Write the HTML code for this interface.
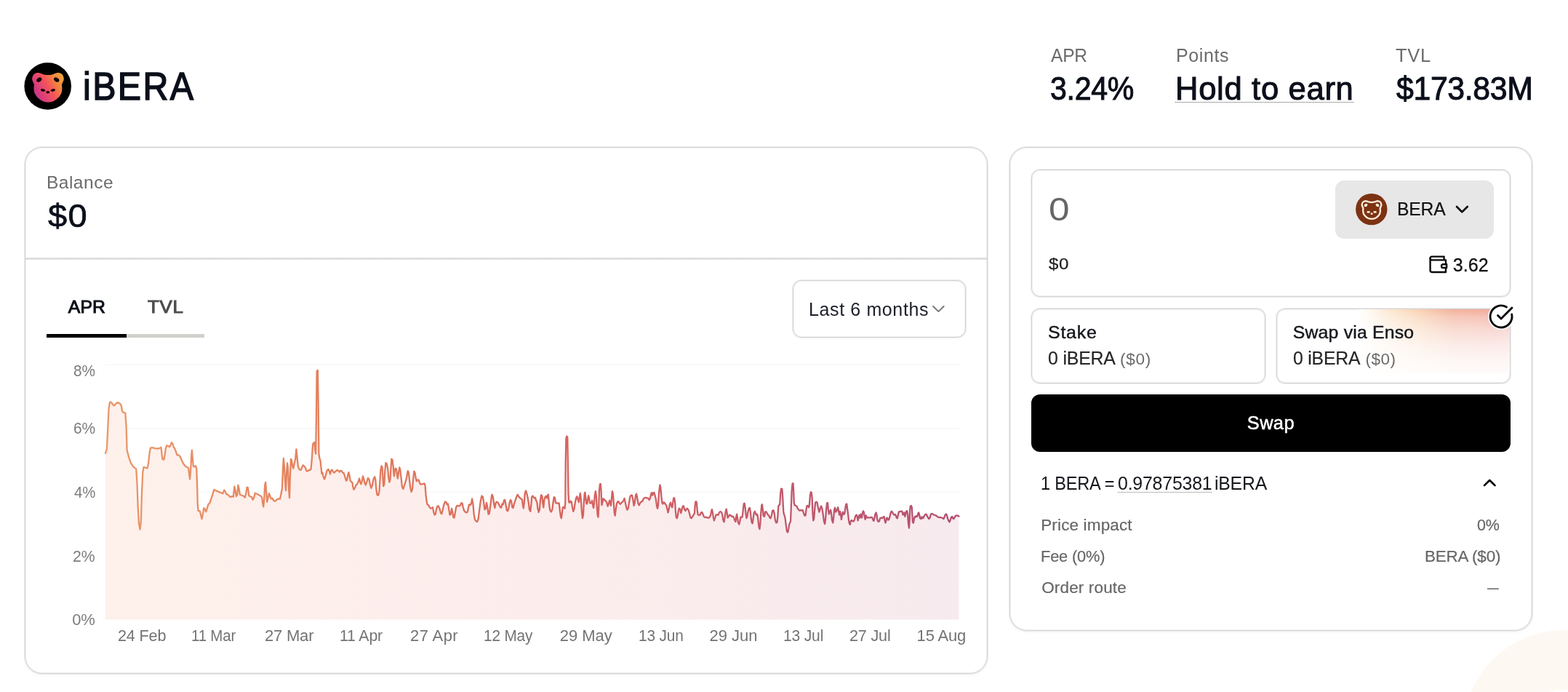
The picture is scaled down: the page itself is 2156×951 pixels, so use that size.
<!DOCTYPE html>
<html lang="en">
<head>
<meta charset="utf-8">
<title>iBERA</title>
<meta name="viewport" content="width=2156">
<style>
*{box-sizing:border-box;margin:0;padding:0}
html,body{width:2156px;height:951px;overflow:hidden;background:#fff}
body{position:relative;font-family:"Liberation Sans",sans-serif;-webkit-font-smoothing:antialiased}
h1,dt,dd,li,button,u,i{font:inherit;list-style:none;border:0;background:none;text-decoration:none}
.t{position:absolute;display:block;white-space:pre;line-height:1;font-weight:400;transform-origin:0 50%}
svg{position:absolute;display:block;overflow:visible}
.frame,.field,.opt,.tok,.swap,.dd,.hr,.ul,.deco,.chk,.glow{position:absolute;display:block}
.frame{border:1px solid #d4d4d4;border-radius:24px;background:#fff;box-shadow:0 0 0 1px #ebebeb,inset 0 0 0 1px #f1f1f1,0 2px 4px rgba(0,0,0,.04)}
.hr{left:35px;top:354px;width:1322px;height:3px;background:linear-gradient(#eee,#d8d8d8 34%,#d8d8d8 66%,#f1f1f1)}
.ul.on{left:64px;top:458.5px;width:110px;height:5.5px;background:#000}
.ul.off{left:174px;top:458.5px;width:107px;height:5.5px;background:#d1d0cc}
.dd{left:1090px;top:385px;width:238px;height:79px;border:1px solid #d4d4d4;border-radius:12px;box-shadow:0 0 0 1px #ececec,inset 0 0 0 1px #f2f2f2;background:#fff}
.field{left:1418px;top:232.5px;width:659px;height:175.5px;border:1px solid #d4d4d4;border-radius:12px;box-shadow:0 0 0 1px #ececec,inset 0 0 0 1px #f2f2f2;background:#fff}
.tok{left:1835.5px;top:248px;width:218px;height:79.5px;border-radius:12px;background:#e7e7e7}
.opt{top:423.5px;width:322px;height:103.5px;border:1px solid #d4d4d4;border-radius:12px;box-shadow:0 0 0 1px #ececec,inset 0 0 0 1px #f2f2f2;background:#fff;overflow:hidden}
#opt-stake{left:1418px}
#opt-enso{left:1755px}
.glow{left:112px;top:0;width:209px;height:88px;
 background:
  linear-gradient(to bottom,rgba(255,255,255,0) 0,rgba(255,255,255,.3) 12%,rgba(255,255,255,.56) 32%,rgba(255,255,255,.76) 56%,rgba(255,255,255,.91) 84%,rgba(255,255,255,.95) 100%),
  linear-gradient(to right,#fff 0,#fef6ec 9%,#fcebd8 17%,#fbdfc3 29%,#f8cfb0 41%,#f5c2a6 50%,#f2b29c 62%,#f2ad9b 78%,#f0a89d 88%,#f1aea6 100%)}
.chk{left:2046.3px;top:417.1px;width:36px;height:36px;border-radius:50%;background:#fff}
.swap{left:1418px;top:541.5px;width:659px;height:79px;border-radius:12px;background:#000}
.deco{left:2012px;top:866px;width:276px;height:276px;border-radius:50%;border:82px solid #fef8f3}
u{text-decoration:underline dotted #777;text-decoration-thickness:1px;text-underline-offset:2.5px}
.dot{text-decoration:underline dotted #555;text-decoration-thickness:1px;text-underline-offset:2.5px}
#f1{left:34px;top:202px;width:1324px;height:724px}
#f2{left:1388px;top:202px;width:719px;height:665px}

</style>
</head>
<body>
<div class="deco"></div>
<header>
<svg style="left:33px;top:86px" width="66" height="66" viewBox="33 86 66 66" class="logo" role="img" aria-label="iBERA logo"><defs><linearGradient id="bg1" gradientUnits="userSpaceOnUse" x1="44" y1="130" x2="88" y2="106"><stop offset="0" stop-color="#b9308f"/><stop offset=".2" stop-color="#d63c7e"/><stop offset=".5" stop-color="#f5535a"/><stop offset=".78" stop-color="#f18a3c"/><stop offset="1" stop-color="#eca440"/></linearGradient></defs>
<circle cx="65.7" cy="118.4" r="32.3" fill="#000"/>
<path d="M51.20 100.00C49.50 100.28 47.38 101.17 46.20 102.60C45.02 104.03 44.20 106.83 44.10 108.60C44.00 110.37 45.13 111.93 45.60 113.20C46.07 114.47 46.75 114.73 46.90 116.20C47.05 117.67 46.35 119.95 46.50 122.00C46.65 124.05 46.85 126.40 47.80 128.50C48.75 130.60 50.42 132.87 52.20 134.60C53.98 136.33 56.20 137.93 58.50 138.90C60.80 139.87 63.50 140.40 66.00 140.40C68.50 140.40 71.20 139.87 73.50 138.90C75.80 137.93 78.02 136.33 79.80 134.60C81.58 132.87 83.27 130.60 84.20 128.50C85.13 126.40 85.27 124.05 85.40 122.00C85.53 119.95 84.85 117.67 85.00 116.20C85.15 114.73 85.83 114.47 86.30 113.20C86.77 111.93 87.88 110.37 87.80 108.60C87.72 106.83 86.97 104.03 85.80 102.60C84.63 101.17 82.50 100.28 80.80 100.00C79.10 99.72 77.15 100.50 75.60 100.90C74.05 101.30 73.10 102.05 71.50 102.40C69.90 102.75 67.83 103.00 66.00 103.00C64.17 103.00 62.10 102.75 60.50 102.40C58.90 102.05 57.95 101.30 56.40 100.90C54.85 100.50 52.90 99.72 51.20 100.00Z" fill="url(#bg1)"/>
<g fill="#120308"><ellipse cx="53.8" cy="109.6" rx="3.9" ry="2.7" transform="rotate(-32 53.8 109.6)"/><ellipse cx="77.7" cy="109.6" rx="3.9" ry="2.7" transform="rotate(32 77.7 109.6)"/><ellipse cx="59" cy="123.9" rx="3.1" ry="1.8" transform="rotate(12 59 123.9)"/><ellipse cx="72.8" cy="123.9" rx="3.1" ry="1.8" transform="rotate(-12 72.8 123.9)"/><ellipse cx="65.8" cy="126.8" rx="2.5" ry="1.8"/></g></svg>
<h1 class="t" style="left:113.5px;top:92.1px;font-size:53.8px;color:#0b0f1a;letter-spacing:2.64px;transform:scaleX(0.9);-webkit-text-stroke:1.5px currentColor">iBERA</h1>
<dl>
<div><dt><span class="t" style="left:1445px;top:63.8px;font-size:25px;color:#6b6b6b;letter-spacing:-0.2px;transform:scaleX(0.9819)">APR</span></dt><dd><span class="t" style="left:1444.1px;top:100.9px;font-size:43.6px;color:#0b0f1a;letter-spacing:-0.35px;transform:scaleX(0.9431);-webkit-text-stroke:1.0px currentColor">3.24%</span></dd></div>
<div><dt><span class="t" style="left:1617px;top:63.8px;font-size:25px;color:#6b6b6b;letter-spacing:0.6px">Points</span></dt><dd><span class="t dot" style="left:1616px;top:100.9px;font-size:43.6px;color:#0b0f1a;letter-spacing:0.67px;-webkit-text-stroke:1.0px currentColor">Hold to earn</span></dd></div>
<div><dt><span class="t" style="left:1919px;top:63.8px;font-size:25px;color:#6b6b6b;letter-spacing:0.75px;transform:scaleX(1.0176)">TVL</span></dt><dd><span class="t" style="left:1920.3px;top:100.9px;font-size:43.6px;color:#0b0f1a;letter-spacing:-0.35px;transform:scaleX(0.9811);-webkit-text-stroke:1.0px currentColor">$173.83M</span></dd></div>
</dl>
</header>
<main>
<section id="chart-card">
<div class="frame" id="f1"></div>
<div class="bal"><span class="t" style="left:63.9px;top:238.6px;font-size:24.5px;color:#6b6b6b;letter-spacing:0.52px">Balance</span><span class="t" style="left:65.6px;top:274.8px;font-size:44px;color:#0b0f1a;letter-spacing:1.32px;transform:scaleX(1.0706);-webkit-text-stroke:0.7px currentColor">$0</span></div>
<div class="hr"></div>
<nav class="tabs">
<span class="t" style="left:93.8px;top:410.2px;font-size:24.8px;color:#0b0f1a;letter-spacing:0.1px;-webkit-text-stroke:1.0px currentColor">APR</span><span class="t" style="left:203.2px;top:410.2px;font-size:24.8px;color:#4d4d4d;letter-spacing:0.74px;transform:scaleX(1.0433);-webkit-text-stroke:1.0px currentColor">TVL</span>
<i class="ul on"></i><i class="ul off"></i>
</nav>
<button class="dd" type="button"><span class="t" style="left:21px;top:26.8px;font-size:25px;color:#1c1f28;letter-spacing:0.62px">Last 6 months</span><svg style="left:188.6px;top:32px" width="20.7" height="13.1" viewBox="1279.6 418 20.7 13.1" aria-hidden="true"><path d="M1282.6 421 L1290 428.1 L1297.3 421" fill="none" stroke="#757575" stroke-width="1.9" stroke-linecap="round" stroke-linejoin="round"/></svg></button>
<figure>
<svg style="left:140px;top:495px" width="1184" height="360.4" viewBox="140 495 1184 360.4" class="chart" role="img" aria-label="APR chart">
<defs>
<linearGradient id="lg" gradientUnits="userSpaceOnUse" x1="145" y1="0" x2="1319" y2="0"><stop offset="0" stop-color="#e8986c"/><stop offset=".25" stop-color="#e4815d"/><stop offset=".55" stop-color="#d6635e"/><stop offset=".8" stop-color="#c1586b"/><stop offset="1" stop-color="#b25070"/></linearGradient>
<linearGradient id="ag" gradientUnits="userSpaceOnUse" x1="145" y1="0" x2="1319" y2="0"><stop offset="0" stop-color="#fef0ea"/><stop offset=".5" stop-color="#fcedec"/><stop offset="1" stop-color="#f7eaee"/></linearGradient>
</defs>
<g stroke="#f7f7f7" stroke-width="1.5"><line x1="145" x2="1319" y1="501.3" y2="501.3"/><line x1="145" x2="1319" y1="588.7" y2="588.7"/><line x1="145" x2="1319" y1="676.2" y2="676.2"/><line x1="145" x2="1319" y1="763.6" y2="763.6"/></g>
<path d="M145 622.9 L146.8 617.4 L148.3 588.3 L149.6 560.6 L151.1 552.5 L153.1 553 L155.1 556 L156.9 557.5 L158.9 555 L161.5 553.2 L164.7 554.3 L166.8 557.5 L168 565.1 L169.8 566.9 L172.3 567.6 L173.6 585.8 L174.6 618.6 L177.1 628.2 L179.9 636.3 L182.9 640.8 L185.4 643.1 L187.2 644.4 L188.5 664 L189.7 696.8 L191 719.6 L192.5 727.6 L193.8 717 L195 676.7 L196.3 648.9 L197.5 641.8 L200.1 642.8 L202.6 643.3 L204.1 636.3 L205.4 623.7 L206.9 615.6 L209.4 615.1 L213.2 616.1 L217 616.6 L220.3 615.6 L221.5 614.8 L222.5 623.7 L223.3 630.7 L225.3 631.7 L226.6 624.9 L227.8 616.1 L229.3 612.3 L231.4 613.1 L233.4 614.1 L234.9 611 L236.2 608 L237.7 611 L238.9 614.8 L240.4 616.6 L242 621.1 L243.5 625.4 L246 625.4 L248 628.2 L249.8 632.5 L252.3 637.5 L254.8 640.8 L257.4 642.1 L259.1 643.3 L260.1 651.4 L261.1 658.5 L262.1 646.4 L263.2 626.2 L263.9 618.6 L264.9 631.2 L265.9 640.8 L267.4 641.3 L269 640.1 L270.2 643.8 L271 664 L271.7 691.8 L272.5 701.9 L274.8 702.4 L276 706.9 L277.5 713.2 L278.8 706.9 L280.3 698.1 L281.8 699.9 L283.3 703.2 L284.9 698.1 L286.4 693.1 L288.4 691.3 L290.4 685.5 L292.4 679.2 L294.4 672.9 L296.3 674.1 L300.1 675.6 L303.9 677.2 L306.4 678.2 L308.2 673.6 L309.7 675.4 L311.2 679.2 L313.2 679.7 L315.2 681.7 L317.3 683.2 L318.8 682.2 L320.8 682.7 L322.3 668.6 L323.6 674.1 L324.8 682.2 L326.1 680.4 L327.4 666.6 L328.6 671.6 L329.9 679.7 L332.4 680.7 L334.9 681.7 L336.9 683.7 L338.5 676.7 L339.5 669.6 L341 670.3 L342.2 681.2 L344.3 682.2 L346 683 L347.5 686.8 L349.1 684.2 L350.6 677.7 L353.1 678.7 L356.1 680.2 L358.6 681.7 L360.2 683.7 L361.2 691.8 L362.2 696.3 L363.2 686.8 L364.2 666.6 L365.2 662.8 L366.2 676.7 L367.2 689.8 L368.5 684.2 L370 678.2 L371.3 681.7 L372.8 685.5 L374.5 684.7 L376.3 688 L378.3 688.8 L380.3 686.8 L382.4 685.7 L384.9 685.7 L386.4 679.2 L387.9 671.6 L388.9 646.4 L389.9 630 L390.9 641.3 L392 661.5 L393 674.1 L394 651.4 L395 636.3 L396 643.8 L397 671.6 L398 684.2 L399 651.4 L400 630.7 L401 632.5 L402.3 641.3 L403.3 643.8 L404.6 637.5 L406.1 631.2 L407.4 617.4 L408.6 628.7 L409.9 641.3 L411.6 645.1 L413.7 645.9 L415.2 642.6 L416.7 639.3 L418.7 640.8 L420.2 643.8 L421.7 647.6 L423.8 646.9 L425.8 645.9 L427.5 645.1 L428.8 631.2 L430.1 611 L431.3 608.5 L432.3 608 L433.3 618.6 L434.1 623.7 L434.9 575.7 L435.6 510.1 L436.9 508.8 L437.6 550.5 L438.4 623.7 L439.4 630 L440.4 632.5 L441.4 641.3 L442.4 650.9 L443.4 649.4 L444.4 654.4 L446 658.5 L446.3 658.1 L447.9 653.1 L449.5 646.8 L451.4 644.9 L452.9 647.6 L453.9 651.5 L455 647.6 L456.2 645.5 L457.7 647.6 L459.2 649.6 L461.3 648 L463.3 646 L465.2 646.8 L466.8 648.7 L468.1 646.8 L469.7 647.1 L471.2 649.6 L472.8 650.3 L474.4 655.5 L476 660.7 L477.2 659.4 L478.3 652.3 L479.4 649.1 L480.5 653.1 L481.6 660.2 L482.9 661.8 L484.5 663.3 L485.4 669.7 L486.5 672.8 L488.1 670.4 L489.5 666.5 L491.1 665.4 L492.7 661.8 L494.1 657.5 L495.2 662.6 L496.3 665.4 L497.6 661.8 L499 654.4 L500.3 658.6 L501.5 664.1 L502.8 666.5 L504.4 661.8 L505.9 657 L507.5 658.6 L508.8 665.7 L510.3 670.8 L511.8 667.3 L513.3 659.4 L515.1 655.1 L516.3 659.4 L517.3 672 L518.5 679.9 L520.1 680.7 L521.4 676 L522.3 662.6 L523.3 646.8 L524.5 640.5 L525.6 642.1 L526.4 656.2 L527.2 668.1 L528.3 665.7 L529.3 646.8 L530.4 636.1 L531.8 637.3 L533.1 643.6 L534.3 656.2 L535.4 662.6 L536.5 659.4 L537.5 642.1 L538.4 630.7 L539.5 631.8 L540.6 640.5 L541.9 654.4 L542.8 646.8 L543.8 643.6 L544.9 644.4 L546 653.1 L546.9 657.5 L548 649.9 L549.3 642.4 L550.4 646 L551.7 657.8 L552.9 668.9 L554.4 672 L555.9 667.3 L557.5 662.6 L559.1 656.2 L560.7 647.1 L561.8 649.1 L563 659.4 L564.3 670.4 L565.7 676 L567 672 L568.1 659.4 L569.3 647.6 L570.6 649.9 L571.7 657 L572.8 661.3 L574.1 659.4 L575.6 659.7 L576.9 663.3 L578.2 665.7 L580.1 665.4 L582 664.9 L583.5 664.4 L584.6 667.3 L585.4 678.3 L586.4 687.8 L587.5 693.3 L589.1 694.1 L590.6 696.9 L592.2 698.8 L593.8 698 L595 697.3 L596.2 703.6 L597.4 707.5 L598.7 706.7 L599.9 700.4 L601.2 696 L602.8 695.4 L604.4 698.8 L605.9 704.4 L607.2 706.4 L608.5 702 L610 694.9 L611.9 689.4 L613.5 690.2 L614.8 693.3 L616 692.5 L617.3 700.4 L618.5 707.5 L619.8 706.7 L621.1 698.8 L622.2 703.6 L623.3 710.7 L624.5 711.5 L625.8 705.1 L627.1 697.3 L628.5 694.9 L630.9 695.4 L632.7 694.9 L634.3 691.3 L635.6 691.7 L636.8 697.3 L638.1 701.7 L639.7 703.6 L641.6 704.4 L642.8 703.6 L644.1 697.3 L645 693.3 L646.6 694.1 L647.9 692.5 L649.1 685.4 L650.4 692.5 L651.7 706.7 L652.9 713.8 L654.5 716.2 L656.1 717 L657.7 713 L659.2 700.4 L660.8 688.6 L662.4 681.5 L664 683.1 L665.2 690.9 L666.5 700.4 L667.8 698.8 L669 690.9 L670.3 697.3 L671.5 706.7 L672.8 705.9 L674.4 694.1 L676 681.5 L676.6 679.6 L677.9 683.1 L679.1 692.5 L680.4 698 L681.7 690.9 L683.2 689.7 L684.8 690.9 L686.4 694.1 L688 697.3 L689.2 697.6 L690.5 692.5 L691.8 693.3 L693 687.5 L694.3 687 L695.6 694.1 L696.8 701.2 L698.1 702.3 L699.3 698.8 L700.6 690.9 L701.9 687 L703.1 688.6 L704.4 697.3 L705.6 698 L706.9 692.5 L708.5 687.8 L710.1 683.1 L711.6 679.6 L713.2 682.3 L714.8 684.3 L716.4 685.4 L717.9 686.5 L718.9 694.1 L719.8 698.5 L720.8 690.9 L721.7 678.3 L723 674.4 L724.3 678.3 L725.5 683.1 L726.8 690.9 L728 700.4 L729.3 702.8 L730.3 694.1 L731.2 683.1 L732.5 681.5 L733.7 683.4 L735 684.6 L735.9 683.8 L737.2 687.8 L738.5 690.9 L739.4 698.8 L740.7 703.9 L741.9 700.4 L742.9 687.8 L744.1 680.2 L745.4 681.5 L746.3 690.9 L747.3 697.3 L748.2 687.8 L749.5 683.1 L750.8 681.8 L752 684.6 L753 680.7 L753.9 679.6 L754.9 690.9 L756.1 700.4 L757.7 703.6 L759.3 700.4 L760.5 690.9 L761.8 683.1 L763.1 684.6 L764 690.9 L765.6 691.7 L767.2 691.3 L768.7 691.7 L769.7 700.4 L770.9 709.9 L771.9 712.2 L772.8 705.1 L773.8 697.3 L774.7 696.6 L775.7 697.3 L776.6 698.8 L777.3 690.9 L777.7 637.3 L778.4 602.6 L779.3 599.5 L780.3 601 L780.9 637.3 L781.5 678.3 L782.3 690.2 L783.2 690.9 L784.5 688.6 L785.8 689.4 L787 697.3 L788.3 702.8 L789.6 698.8 L790.8 690.9 L792.1 684.6 L793.3 682.3 L794.6 686.2 L795.9 690.2 L796.8 683.1 L797.8 678 L798.7 684.6 L799.7 700.4 L800.9 712.2 L801.9 708.3 L802.8 690.9 L803.8 678.3 L804.5 676.8 L805.3 684.6 L806.3 692.2 L807.2 692.5 L808.2 686.2 L809.1 681.2 L810.1 684.6 L811 690.9 L812 691.7 L813.2 690.9 L814.2 687.8 L815.1 694.1 L816.1 698 L817 690.9 L817.9 679.9 L818.9 675.2 L819.8 681.5 L820.8 697.3 L821.7 708.3 L822.5 710.7 L823.3 697.3 L823.9 675.2 L824.9 665.4 L825.8 664.9 L826.6 675.2 L827.4 694.1 L828.4 690.9 L829.3 685.4 L830.6 685.9 L831.8 687.8 L833.1 688.6 L834.4 690.9 L835.6 695.7 L836.9 692.5 L838.1 687.8 L839.1 690.9 L840 694.9 L841 684.6 L841.9 675.2 L842.9 678.3 L843.8 690.9 L844.8 705.1 L845.7 708.6 L846.7 700.4 L847.9 692.5 L849.2 689.4 L850.4 689.1 L851.7 691.7 L853 692.8 L854.5 690.9 L856.1 689.7 L857.4 687.8 L858.6 685 L859.9 690.9 L861.2 697.3 L862.4 700.7 L863.7 698.8 L865 690.9 L866.2 683.1 L867.5 680.7 L869.1 680.7 L870.3 686.2 L871.6 694.9 L872.8 690.9 L874.1 680.7 L875 678.6 L876.3 684.6 L877.6 692.5 L878.8 694.4 L880.4 690.9 L882 689.4 L883.6 688.6 L884.8 685.4 L886.4 684.3 L888 683.8 L889.6 684.3 L891.1 684.6 L892.7 687 L894 684.6 L895.2 679.1 L896.2 677.1 L897.1 680.7 L898.4 677.5 L899.3 676.8 L900.6 680.7 L901.9 686.2 L903.1 695.7 L904.1 698.8 L905 694.1 L906 678.3 L906.3 675.2 L907.4 666.5 L908.4 670.4 L909.5 683.1 L910.4 690.9 L911.4 692.5 L912.6 690.2 L913.9 690.9 L915.1 693.3 L916.4 694.9 L917.7 700.4 L918.6 704.4 L919.6 700.4 L920.8 693.3 L922.1 690.6 L923.3 695.7 L924.3 697.3 L925.2 690.9 L926.2 684.6 L927.1 684.3 L928.1 689.4 L929 703.6 L930 711.5 L930.9 712.2 L931.9 708.3 L932.8 702 L933.8 698.8 L935 699.6 L936.3 705.1 L937.5 700.4 L938.8 695.7 L940.1 695.4 L941.3 700.4 L942.6 702 L943.8 699.6 L945.1 698.8 L946.7 701.2 L948.3 706.7 L949.5 711.5 L950.8 712.2 L952.4 709.9 L953.6 707.5 L954.9 705.9 L955.5 697.3 L956.2 690.2 L957.1 689.1 L958 690.9 L958.7 700.4 L959.6 707 L961.2 708 L962.8 707.5 L964 704.4 L965.3 703.9 L966.6 706.7 L967.8 709.9 L969.4 711.1 L971 710.7 L972.6 711.5 L974.1 711.8 L975.7 710.7 L977 708.3 L977.9 703.6 L978.9 700.1 L979.8 703.6 L980.8 710.7 L982 715.4 L983.3 711.5 L984.5 707.5 L986.1 707.5 L987.7 707.5 L989 704.4 L990.2 703.2 L991.8 703.6 L993.1 706.7 L994.3 714.6 L995.6 717.4 L996.5 711.5 L997.8 702.8 L998.7 699.6 L999.7 705.1 L1000.6 711.5 L1001.9 709.9 L1003.2 707.5 L1004.7 708.3 L1006.3 709.9 L1007.9 709.6 L1009.1 711.5 L1010.4 715.4 L1011.4 717 L1012.3 709.9 L1013.2 706.7 L1014.2 713 L1015.1 718.5 L1016.4 720.6 L1017.4 716.2 L1018.3 710.7 L1019.6 711.1 L1020.8 709.9 L1021.8 700.4 L1022.7 692.5 L1023.7 691.7 L1024.6 697.3 L1025.6 706.7 L1026.5 712.2 L1027.4 709.9 L1028.4 703.6 L1029.7 698.8 L1030.9 698 L1031.9 703.6 L1032.8 713 L1033.8 718.5 L1034.7 719.3 L1035.6 713 L1036.6 705.1 L1037.9 702.8 L1038.8 705.1 L1039.7 707.5 L1040.7 706.7 L1041.6 707.5 L1042.6 716.2 L1043.5 724.1 L1044.5 727.2 L1045.4 719.3 L1046.4 703.6 L1047.3 694.1 L1047.9 693.3 L1048.9 700.4 L1049.8 709.1 L1051.1 709.9 L1052.1 703.6 L1053.3 703.2 L1054.6 705.1 L1055.8 707.5 L1057.1 708.3 L1058.4 711.5 L1059.6 712.2 L1060.9 708.3 L1062.1 702 L1063.4 701.2 L1064.7 705.1 L1065.9 714.6 L1067.2 718.5 L1068.5 717.8 L1069.4 709.9 L1070.3 695.7 L1071.3 694.1 L1072.2 693.3 L1073.2 678.3 L1074.1 671.7 L1075.4 672 L1076.3 684.6 L1077.3 703.6 L1078.2 707.5 L1079.2 709.9 L1080.1 716.2 L1081.1 724.1 L1082 730.4 L1083.3 731.6 L1084.2 727.2 L1085.2 720.9 L1086.1 718.5 L1087.1 716.2 L1087.7 700.4 L1088.6 675.2 L1089.6 664.9 L1090.5 664.1 L1091.2 675.2 L1091.8 690.9 L1092.7 694.4 L1094 694.9 L1095.6 695.7 L1096.8 698.8 L1098.1 700.4 L1099.4 701.7 L1100.9 701.2 L1102.5 701.7 L1103.8 701.2 L1105 705.1 L1106.3 708.6 L1107.6 708.3 L1108.5 700.4 L1109.5 695.4 L1110.7 694.9 L1112 697.3 L1112.9 694.1 L1113.9 681.5 L1114.8 676.4 L1115.8 676.8 L1116.7 684.6 L1117.4 703.6 L1118.3 715.4 L1119.2 713 L1120.2 700.4 L1121.1 690.9 L1122.4 689.7 L1123.7 690.9 L1124.6 695.7 L1125.6 700.4 L1126.5 703.6 L1127.8 698.8 L1129.1 695.4 L1130.4 698.8 L1131.7 706.7 L1132.9 716.2 L1134.2 720.1 L1135.1 713 L1136.1 700.4 L1137 691.7 L1138 690.9 L1138.9 700.4 L1139.9 706.7 L1140.8 703.6 L1142.1 700.7 L1143 705.1 L1144 714.6 L1145.2 718.5 L1146.2 711.5 L1147.1 700.4 L1148.1 697.6 L1149 703.6 L1150 702.8 L1150.9 700.4 L1152.2 697.3 L1153.1 702 L1154.1 707.5 L1155 702.8 L1156 706.7 L1156.9 713.8 L1157.9 708.3 L1158.8 703.6 L1160.1 707 L1161.3 705.9 L1162.3 698.8 L1163.2 693.3 L1164.2 692.5 L1165.1 698.8 L1166.1 706.7 L1167 714.6 L1167.9 719.3 L1168.9 720.9 L1169.8 716.2 L1171.1 714.9 L1172.4 716.2 L1173.6 716.5 L1174.9 714.6 L1175.8 710.7 L1176.8 708.3 L1177.7 707.5 L1178.7 709.9 L1179.6 715.4 L1180.6 711.5 L1181.5 708 L1182.5 711.5 L1183.4 706.7 L1184.4 707.5 L1185 711.5 L1185.9 705.1 L1186.9 702.3 L1187.8 703.6 L1188.8 709.9 L1189.7 713.8 L1190.7 708.3 L1191.9 711.5 L1193.5 711.1 L1195.1 711.5 L1196.7 711.1 L1198.2 710.8 L1199.5 711.5 L1200.4 714.6 L1201.4 715.9 L1202.3 713 L1203.3 707.5 L1204.5 704.4 L1205.5 707.5 L1206.4 714.6 L1207.7 717 L1209 716.2 L1210.2 712.2 L1211.8 711.5 L1213.1 712.2 L1214.3 710.7 L1215.6 709.9 L1216.5 714.6 L1217.5 718.5 L1218.4 715.4 L1219.4 711.5 L1220.3 712.2 L1221.3 714.6 L1222.5 713.8 L1223.5 709.9 L1224.4 705.9 L1225.4 703.2 L1226.3 702.8 L1227.3 704.4 L1228.5 706.7 L1229.8 707.5 L1231 707 L1232 709.1 L1232.9 711.5 L1233.9 712.2 L1234.8 708.3 L1235.8 703.6 L1237 703.2 L1238.3 702.8 L1239.6 702.3 L1240.5 703.2 L1241.5 707.5 L1242.4 706.7 L1243.3 704.4 L1244.3 709.9 L1245.2 706.7 L1246.2 702.8 L1247.1 702 L1248.1 706.7 L1249 719.3 L1250 725.6 L1250.6 716.2 L1251.2 700.4 L1251.9 695.4 L1252.8 694.9 L1253.8 697.3 L1254.4 708.3 L1255 717.8 L1256 718.5 L1256.9 713 L1257.9 709.9 L1258.8 710.7 L1260.1 709.1 L1261.3 709.9 L1262.3 705.9 L1263.2 704.4 L1264.2 707.5 L1265.1 712.2 L1266.4 713 L1267.6 710.2 L1268.6 712.2 L1269.8 711.5 L1271.1 708.3 L1272.4 707 L1273.6 706.7 L1274.9 709.1 L1276.2 711.5 L1277.4 713 L1278.7 711.5 L1279.6 707.5 L1280.9 705.9 L1282.5 706.4 L1284 707.5 L1285.6 708 L1287.2 708.6 L1288.8 709.9 L1290.3 710.7 L1291.9 711.1 L1293.5 711.1 L1295.1 711.5 L1296.3 712.2 L1297.6 713 L1298.5 710.7 L1299.8 707.5 L1301.1 706.4 L1302 708.3 L1303 712.2 L1304.2 715.4 L1305.5 717.4 L1306.8 714.6 L1308 710.7 L1309.3 709.9 L1310.2 712.2 L1311.2 713 L1312.4 711.5 L1313.7 709.1 L1315.3 708.3 L1316.8 708.6 L1318.4 709.6 L1318.4 851.4 L145 851.4 Z" fill="url(#ag)"/>
<path d="M145 622.9 L146.8 617.4 L148.3 588.3 L149.6 560.6 L151.1 552.5 L153.1 553 L155.1 556 L156.9 557.5 L158.9 555 L161.5 553.2 L164.7 554.3 L166.8 557.5 L168 565.1 L169.8 566.9 L172.3 567.6 L173.6 585.8 L174.6 618.6 L177.1 628.2 L179.9 636.3 L182.9 640.8 L185.4 643.1 L187.2 644.4 L188.5 664 L189.7 696.8 L191 719.6 L192.5 727.6 L193.8 717 L195 676.7 L196.3 648.9 L197.5 641.8 L200.1 642.8 L202.6 643.3 L204.1 636.3 L205.4 623.7 L206.9 615.6 L209.4 615.1 L213.2 616.1 L217 616.6 L220.3 615.6 L221.5 614.8 L222.5 623.7 L223.3 630.7 L225.3 631.7 L226.6 624.9 L227.8 616.1 L229.3 612.3 L231.4 613.1 L233.4 614.1 L234.9 611 L236.2 608 L237.7 611 L238.9 614.8 L240.4 616.6 L242 621.1 L243.5 625.4 L246 625.4 L248 628.2 L249.8 632.5 L252.3 637.5 L254.8 640.8 L257.4 642.1 L259.1 643.3 L260.1 651.4 L261.1 658.5 L262.1 646.4 L263.2 626.2 L263.9 618.6 L264.9 631.2 L265.9 640.8 L267.4 641.3 L269 640.1 L270.2 643.8 L271 664 L271.7 691.8 L272.5 701.9 L274.8 702.4 L276 706.9 L277.5 713.2 L278.8 706.9 L280.3 698.1 L281.8 699.9 L283.3 703.2 L284.9 698.1 L286.4 693.1 L288.4 691.3 L290.4 685.5 L292.4 679.2 L294.4 672.9 L296.3 674.1 L300.1 675.6 L303.9 677.2 L306.4 678.2 L308.2 673.6 L309.7 675.4 L311.2 679.2 L313.2 679.7 L315.2 681.7 L317.3 683.2 L318.8 682.2 L320.8 682.7 L322.3 668.6 L323.6 674.1 L324.8 682.2 L326.1 680.4 L327.4 666.6 L328.6 671.6 L329.9 679.7 L332.4 680.7 L334.9 681.7 L336.9 683.7 L338.5 676.7 L339.5 669.6 L341 670.3 L342.2 681.2 L344.3 682.2 L346 683 L347.5 686.8 L349.1 684.2 L350.6 677.7 L353.1 678.7 L356.1 680.2 L358.6 681.7 L360.2 683.7 L361.2 691.8 L362.2 696.3 L363.2 686.8 L364.2 666.6 L365.2 662.8 L366.2 676.7 L367.2 689.8 L368.5 684.2 L370 678.2 L371.3 681.7 L372.8 685.5 L374.5 684.7 L376.3 688 L378.3 688.8 L380.3 686.8 L382.4 685.7 L384.9 685.7 L386.4 679.2 L387.9 671.6 L388.9 646.4 L389.9 630 L390.9 641.3 L392 661.5 L393 674.1 L394 651.4 L395 636.3 L396 643.8 L397 671.6 L398 684.2 L399 651.4 L400 630.7 L401 632.5 L402.3 641.3 L403.3 643.8 L404.6 637.5 L406.1 631.2 L407.4 617.4 L408.6 628.7 L409.9 641.3 L411.6 645.1 L413.7 645.9 L415.2 642.6 L416.7 639.3 L418.7 640.8 L420.2 643.8 L421.7 647.6 L423.8 646.9 L425.8 645.9 L427.5 645.1 L428.8 631.2 L430.1 611 L431.3 608.5 L432.3 608 L433.3 618.6 L434.1 623.7 L434.9 575.7 L435.6 510.1 L436.9 508.8 L437.6 550.5 L438.4 623.7 L439.4 630 L440.4 632.5 L441.4 641.3 L442.4 650.9 L443.4 649.4 L444.4 654.4 L446 658.5 L446.3 658.1 L447.9 653.1 L449.5 646.8 L451.4 644.9 L452.9 647.6 L453.9 651.5 L455 647.6 L456.2 645.5 L457.7 647.6 L459.2 649.6 L461.3 648 L463.3 646 L465.2 646.8 L466.8 648.7 L468.1 646.8 L469.7 647.1 L471.2 649.6 L472.8 650.3 L474.4 655.5 L476 660.7 L477.2 659.4 L478.3 652.3 L479.4 649.1 L480.5 653.1 L481.6 660.2 L482.9 661.8 L484.5 663.3 L485.4 669.7 L486.5 672.8 L488.1 670.4 L489.5 666.5 L491.1 665.4 L492.7 661.8 L494.1 657.5 L495.2 662.6 L496.3 665.4 L497.6 661.8 L499 654.4 L500.3 658.6 L501.5 664.1 L502.8 666.5 L504.4 661.8 L505.9 657 L507.5 658.6 L508.8 665.7 L510.3 670.8 L511.8 667.3 L513.3 659.4 L515.1 655.1 L516.3 659.4 L517.3 672 L518.5 679.9 L520.1 680.7 L521.4 676 L522.3 662.6 L523.3 646.8 L524.5 640.5 L525.6 642.1 L526.4 656.2 L527.2 668.1 L528.3 665.7 L529.3 646.8 L530.4 636.1 L531.8 637.3 L533.1 643.6 L534.3 656.2 L535.4 662.6 L536.5 659.4 L537.5 642.1 L538.4 630.7 L539.5 631.8 L540.6 640.5 L541.9 654.4 L542.8 646.8 L543.8 643.6 L544.9 644.4 L546 653.1 L546.9 657.5 L548 649.9 L549.3 642.4 L550.4 646 L551.7 657.8 L552.9 668.9 L554.4 672 L555.9 667.3 L557.5 662.6 L559.1 656.2 L560.7 647.1 L561.8 649.1 L563 659.4 L564.3 670.4 L565.7 676 L567 672 L568.1 659.4 L569.3 647.6 L570.6 649.9 L571.7 657 L572.8 661.3 L574.1 659.4 L575.6 659.7 L576.9 663.3 L578.2 665.7 L580.1 665.4 L582 664.9 L583.5 664.4 L584.6 667.3 L585.4 678.3 L586.4 687.8 L587.5 693.3 L589.1 694.1 L590.6 696.9 L592.2 698.8 L593.8 698 L595 697.3 L596.2 703.6 L597.4 707.5 L598.7 706.7 L599.9 700.4 L601.2 696 L602.8 695.4 L604.4 698.8 L605.9 704.4 L607.2 706.4 L608.5 702 L610 694.9 L611.9 689.4 L613.5 690.2 L614.8 693.3 L616 692.5 L617.3 700.4 L618.5 707.5 L619.8 706.7 L621.1 698.8 L622.2 703.6 L623.3 710.7 L624.5 711.5 L625.8 705.1 L627.1 697.3 L628.5 694.9 L630.9 695.4 L632.7 694.9 L634.3 691.3 L635.6 691.7 L636.8 697.3 L638.1 701.7 L639.7 703.6 L641.6 704.4 L642.8 703.6 L644.1 697.3 L645 693.3 L646.6 694.1 L647.9 692.5 L649.1 685.4 L650.4 692.5 L651.7 706.7 L652.9 713.8 L654.5 716.2 L656.1 717 L657.7 713 L659.2 700.4 L660.8 688.6 L662.4 681.5 L664 683.1 L665.2 690.9 L666.5 700.4 L667.8 698.8 L669 690.9 L670.3 697.3 L671.5 706.7 L672.8 705.9 L674.4 694.1 L676 681.5 L676.6 679.6 L677.9 683.1 L679.1 692.5 L680.4 698 L681.7 690.9 L683.2 689.7 L684.8 690.9 L686.4 694.1 L688 697.3 L689.2 697.6 L690.5 692.5 L691.8 693.3 L693 687.5 L694.3 687 L695.6 694.1 L696.8 701.2 L698.1 702.3 L699.3 698.8 L700.6 690.9 L701.9 687 L703.1 688.6 L704.4 697.3 L705.6 698 L706.9 692.5 L708.5 687.8 L710.1 683.1 L711.6 679.6 L713.2 682.3 L714.8 684.3 L716.4 685.4 L717.9 686.5 L718.9 694.1 L719.8 698.5 L720.8 690.9 L721.7 678.3 L723 674.4 L724.3 678.3 L725.5 683.1 L726.8 690.9 L728 700.4 L729.3 702.8 L730.3 694.1 L731.2 683.1 L732.5 681.5 L733.7 683.4 L735 684.6 L735.9 683.8 L737.2 687.8 L738.5 690.9 L739.4 698.8 L740.7 703.9 L741.9 700.4 L742.9 687.8 L744.1 680.2 L745.4 681.5 L746.3 690.9 L747.3 697.3 L748.2 687.8 L749.5 683.1 L750.8 681.8 L752 684.6 L753 680.7 L753.9 679.6 L754.9 690.9 L756.1 700.4 L757.7 703.6 L759.3 700.4 L760.5 690.9 L761.8 683.1 L763.1 684.6 L764 690.9 L765.6 691.7 L767.2 691.3 L768.7 691.7 L769.7 700.4 L770.9 709.9 L771.9 712.2 L772.8 705.1 L773.8 697.3 L774.7 696.6 L775.7 697.3 L776.6 698.8 L777.3 690.9 L777.7 637.3 L778.4 602.6 L779.3 599.5 L780.3 601 L780.9 637.3 L781.5 678.3 L782.3 690.2 L783.2 690.9 L784.5 688.6 L785.8 689.4 L787 697.3 L788.3 702.8 L789.6 698.8 L790.8 690.9 L792.1 684.6 L793.3 682.3 L794.6 686.2 L795.9 690.2 L796.8 683.1 L797.8 678 L798.7 684.6 L799.7 700.4 L800.9 712.2 L801.9 708.3 L802.8 690.9 L803.8 678.3 L804.5 676.8 L805.3 684.6 L806.3 692.2 L807.2 692.5 L808.2 686.2 L809.1 681.2 L810.1 684.6 L811 690.9 L812 691.7 L813.2 690.9 L814.2 687.8 L815.1 694.1 L816.1 698 L817 690.9 L817.9 679.9 L818.9 675.2 L819.8 681.5 L820.8 697.3 L821.7 708.3 L822.5 710.7 L823.3 697.3 L823.9 675.2 L824.9 665.4 L825.8 664.9 L826.6 675.2 L827.4 694.1 L828.4 690.9 L829.3 685.4 L830.6 685.9 L831.8 687.8 L833.1 688.6 L834.4 690.9 L835.6 695.7 L836.9 692.5 L838.1 687.8 L839.1 690.9 L840 694.9 L841 684.6 L841.9 675.2 L842.9 678.3 L843.8 690.9 L844.8 705.1 L845.7 708.6 L846.7 700.4 L847.9 692.5 L849.2 689.4 L850.4 689.1 L851.7 691.7 L853 692.8 L854.5 690.9 L856.1 689.7 L857.4 687.8 L858.6 685 L859.9 690.9 L861.2 697.3 L862.4 700.7 L863.7 698.8 L865 690.9 L866.2 683.1 L867.5 680.7 L869.1 680.7 L870.3 686.2 L871.6 694.9 L872.8 690.9 L874.1 680.7 L875 678.6 L876.3 684.6 L877.6 692.5 L878.8 694.4 L880.4 690.9 L882 689.4 L883.6 688.6 L884.8 685.4 L886.4 684.3 L888 683.8 L889.6 684.3 L891.1 684.6 L892.7 687 L894 684.6 L895.2 679.1 L896.2 677.1 L897.1 680.7 L898.4 677.5 L899.3 676.8 L900.6 680.7 L901.9 686.2 L903.1 695.7 L904.1 698.8 L905 694.1 L906 678.3 L906.3 675.2 L907.4 666.5 L908.4 670.4 L909.5 683.1 L910.4 690.9 L911.4 692.5 L912.6 690.2 L913.9 690.9 L915.1 693.3 L916.4 694.9 L917.7 700.4 L918.6 704.4 L919.6 700.4 L920.8 693.3 L922.1 690.6 L923.3 695.7 L924.3 697.3 L925.2 690.9 L926.2 684.6 L927.1 684.3 L928.1 689.4 L929 703.6 L930 711.5 L930.9 712.2 L931.9 708.3 L932.8 702 L933.8 698.8 L935 699.6 L936.3 705.1 L937.5 700.4 L938.8 695.7 L940.1 695.4 L941.3 700.4 L942.6 702 L943.8 699.6 L945.1 698.8 L946.7 701.2 L948.3 706.7 L949.5 711.5 L950.8 712.2 L952.4 709.9 L953.6 707.5 L954.9 705.9 L955.5 697.3 L956.2 690.2 L957.1 689.1 L958 690.9 L958.7 700.4 L959.6 707 L961.2 708 L962.8 707.5 L964 704.4 L965.3 703.9 L966.6 706.7 L967.8 709.9 L969.4 711.1 L971 710.7 L972.6 711.5 L974.1 711.8 L975.7 710.7 L977 708.3 L977.9 703.6 L978.9 700.1 L979.8 703.6 L980.8 710.7 L982 715.4 L983.3 711.5 L984.5 707.5 L986.1 707.5 L987.7 707.5 L989 704.4 L990.2 703.2 L991.8 703.6 L993.1 706.7 L994.3 714.6 L995.6 717.4 L996.5 711.5 L997.8 702.8 L998.7 699.6 L999.7 705.1 L1000.6 711.5 L1001.9 709.9 L1003.2 707.5 L1004.7 708.3 L1006.3 709.9 L1007.9 709.6 L1009.1 711.5 L1010.4 715.4 L1011.4 717 L1012.3 709.9 L1013.2 706.7 L1014.2 713 L1015.1 718.5 L1016.4 720.6 L1017.4 716.2 L1018.3 710.7 L1019.6 711.1 L1020.8 709.9 L1021.8 700.4 L1022.7 692.5 L1023.7 691.7 L1024.6 697.3 L1025.6 706.7 L1026.5 712.2 L1027.4 709.9 L1028.4 703.6 L1029.7 698.8 L1030.9 698 L1031.9 703.6 L1032.8 713 L1033.8 718.5 L1034.7 719.3 L1035.6 713 L1036.6 705.1 L1037.9 702.8 L1038.8 705.1 L1039.7 707.5 L1040.7 706.7 L1041.6 707.5 L1042.6 716.2 L1043.5 724.1 L1044.5 727.2 L1045.4 719.3 L1046.4 703.6 L1047.3 694.1 L1047.9 693.3 L1048.9 700.4 L1049.8 709.1 L1051.1 709.9 L1052.1 703.6 L1053.3 703.2 L1054.6 705.1 L1055.8 707.5 L1057.1 708.3 L1058.4 711.5 L1059.6 712.2 L1060.9 708.3 L1062.1 702 L1063.4 701.2 L1064.7 705.1 L1065.9 714.6 L1067.2 718.5 L1068.5 717.8 L1069.4 709.9 L1070.3 695.7 L1071.3 694.1 L1072.2 693.3 L1073.2 678.3 L1074.1 671.7 L1075.4 672 L1076.3 684.6 L1077.3 703.6 L1078.2 707.5 L1079.2 709.9 L1080.1 716.2 L1081.1 724.1 L1082 730.4 L1083.3 731.6 L1084.2 727.2 L1085.2 720.9 L1086.1 718.5 L1087.1 716.2 L1087.7 700.4 L1088.6 675.2 L1089.6 664.9 L1090.5 664.1 L1091.2 675.2 L1091.8 690.9 L1092.7 694.4 L1094 694.9 L1095.6 695.7 L1096.8 698.8 L1098.1 700.4 L1099.4 701.7 L1100.9 701.2 L1102.5 701.7 L1103.8 701.2 L1105 705.1 L1106.3 708.6 L1107.6 708.3 L1108.5 700.4 L1109.5 695.4 L1110.7 694.9 L1112 697.3 L1112.9 694.1 L1113.9 681.5 L1114.8 676.4 L1115.8 676.8 L1116.7 684.6 L1117.4 703.6 L1118.3 715.4 L1119.2 713 L1120.2 700.4 L1121.1 690.9 L1122.4 689.7 L1123.7 690.9 L1124.6 695.7 L1125.6 700.4 L1126.5 703.6 L1127.8 698.8 L1129.1 695.4 L1130.4 698.8 L1131.7 706.7 L1132.9 716.2 L1134.2 720.1 L1135.1 713 L1136.1 700.4 L1137 691.7 L1138 690.9 L1138.9 700.4 L1139.9 706.7 L1140.8 703.6 L1142.1 700.7 L1143 705.1 L1144 714.6 L1145.2 718.5 L1146.2 711.5 L1147.1 700.4 L1148.1 697.6 L1149 703.6 L1150 702.8 L1150.9 700.4 L1152.2 697.3 L1153.1 702 L1154.1 707.5 L1155 702.8 L1156 706.7 L1156.9 713.8 L1157.9 708.3 L1158.8 703.6 L1160.1 707 L1161.3 705.9 L1162.3 698.8 L1163.2 693.3 L1164.2 692.5 L1165.1 698.8 L1166.1 706.7 L1167 714.6 L1167.9 719.3 L1168.9 720.9 L1169.8 716.2 L1171.1 714.9 L1172.4 716.2 L1173.6 716.5 L1174.9 714.6 L1175.8 710.7 L1176.8 708.3 L1177.7 707.5 L1178.7 709.9 L1179.6 715.4 L1180.6 711.5 L1181.5 708 L1182.5 711.5 L1183.4 706.7 L1184.4 707.5 L1185 711.5 L1185.9 705.1 L1186.9 702.3 L1187.8 703.6 L1188.8 709.9 L1189.7 713.8 L1190.7 708.3 L1191.9 711.5 L1193.5 711.1 L1195.1 711.5 L1196.7 711.1 L1198.2 710.8 L1199.5 711.5 L1200.4 714.6 L1201.4 715.9 L1202.3 713 L1203.3 707.5 L1204.5 704.4 L1205.5 707.5 L1206.4 714.6 L1207.7 717 L1209 716.2 L1210.2 712.2 L1211.8 711.5 L1213.1 712.2 L1214.3 710.7 L1215.6 709.9 L1216.5 714.6 L1217.5 718.5 L1218.4 715.4 L1219.4 711.5 L1220.3 712.2 L1221.3 714.6 L1222.5 713.8 L1223.5 709.9 L1224.4 705.9 L1225.4 703.2 L1226.3 702.8 L1227.3 704.4 L1228.5 706.7 L1229.8 707.5 L1231 707 L1232 709.1 L1232.9 711.5 L1233.9 712.2 L1234.8 708.3 L1235.8 703.6 L1237 703.2 L1238.3 702.8 L1239.6 702.3 L1240.5 703.2 L1241.5 707.5 L1242.4 706.7 L1243.3 704.4 L1244.3 709.9 L1245.2 706.7 L1246.2 702.8 L1247.1 702 L1248.1 706.7 L1249 719.3 L1250 725.6 L1250.6 716.2 L1251.2 700.4 L1251.9 695.4 L1252.8 694.9 L1253.8 697.3 L1254.4 708.3 L1255 717.8 L1256 718.5 L1256.9 713 L1257.9 709.9 L1258.8 710.7 L1260.1 709.1 L1261.3 709.9 L1262.3 705.9 L1263.2 704.4 L1264.2 707.5 L1265.1 712.2 L1266.4 713 L1267.6 710.2 L1268.6 712.2 L1269.8 711.5 L1271.1 708.3 L1272.4 707 L1273.6 706.7 L1274.9 709.1 L1276.2 711.5 L1277.4 713 L1278.7 711.5 L1279.6 707.5 L1280.9 705.9 L1282.5 706.4 L1284 707.5 L1285.6 708 L1287.2 708.6 L1288.8 709.9 L1290.3 710.7 L1291.9 711.1 L1293.5 711.1 L1295.1 711.5 L1296.3 712.2 L1297.6 713 L1298.5 710.7 L1299.8 707.5 L1301.1 706.4 L1302 708.3 L1303 712.2 L1304.2 715.4 L1305.5 717.4 L1306.8 714.6 L1308 710.7 L1309.3 709.9 L1310.2 712.2 L1311.2 713 L1312.4 711.5 L1313.7 709.1 L1315.3 708.3 L1316.8 708.6 L1318.4 709.6" fill="none" stroke="url(#lg)" stroke-width="2.3" stroke-linejoin="round" stroke-linecap="round"/>
</svg>
<div class="yax"><span class="t" style="left:100.9px;top:498.8px;font-size:22px;color:#7c7c7c;letter-spacing:-0.18px;transform:scaleX(0.9455)">8%</span><span class="t" style="left:100.6px;top:578.2px;font-size:22px;color:#7c7c7c;letter-spacing:-0.18px;transform:scaleX(0.9523)">6%</span><span class="t" style="left:101.5px;top:665.6px;font-size:22px;color:#7c7c7c;letter-spacing:-0.18px;transform:scaleX(0.9246)">4%</span><span class="t" style="left:100.2px;top:753.8px;font-size:22px;color:#7c7c7c;letter-spacing:-0.18px;transform:scaleX(0.9657)">2%</span><span class="t" style="left:99.2px;top:841px;font-size:22px;color:#7c7c7c;letter-spacing:-0.18px">0%</span></div>
<div class="xax"><span class="t" style="left:162px;top:862.7px;font-size:22px;color:#737373;letter-spacing:-0.18px;transform:scaleX(0.9831)">24 Feb</span><span class="t" style="left:263.2px;top:862.7px;font-size:22px;color:#737373;letter-spacing:-0.18px;transform:scaleX(0.9279)">11 Mar</span><span class="t" style="left:363.9px;top:862.7px;font-size:22px;color:#737373;letter-spacing:-0.18px">27 Mar</span><span class="t" style="left:466.8px;top:862.7px;font-size:22px;color:#737373;letter-spacing:-0.18px;transform:scaleX(0.9692)">11 Apr</span><span class="t" style="left:564px;top:862.7px;font-size:22px;color:#737373;letter-spacing:0.4px">27 Apr</span><span class="t" style="left:665.3px;top:862.7px;font-size:22px;color:#737373;letter-spacing:-0.18px;transform:scaleX(0.9447)">12 May</span><span class="t" style="left:769.8px;top:862.7px;font-size:22px;color:#737373;letter-spacing:-0.06px">29 May</span><span class="t" style="left:877.6px;top:862.7px;font-size:22px;color:#737373;letter-spacing:-0.18px;transform:scaleX(0.9482)">13 Jun</span><span class="t" style="left:975.4px;top:862.7px;font-size:22px;color:#737373;letter-spacing:0.02px">29 Jun</span><span class="t" style="left:1076.9px;top:862.7px;font-size:22px;color:#737373;letter-spacing:-0.18px;transform:scaleX(0.9571)">13 Jul</span><span class="t" style="left:1168.1px;top:862.7px;font-size:22px;color:#737373;letter-spacing:-0.18px;transform:scaleX(0.9815)">27 Jul</span><span class="t" style="left:1260.6px;top:862.7px;font-size:22px;color:#737373;letter-spacing:-0.18px">15 Aug</span></div>
</figure>
</section>
<aside id="swap-card">
<div class="frame" id="f2"></div>
<div class="field">
<span class="t" style="left:22.5px;top:32.7px;font-size:44.5px;color:#666;transform:scaleX(1.1524)">0</span>
<span class="t" style="left:23.2px;top:118.2px;font-size:22.5px;color:#222;letter-spacing:0.67px;transform:scaleX(1.0699);-webkit-text-stroke:0.25px currentColor">$0</span>
<svg style="left:543.5px;top:115.7px" width="28.5" height="28.5" viewBox="0 0 24 24" fill="none" stroke="#0a0a0a" stroke-width="2" stroke-linecap="round" stroke-linejoin="round" aria-hidden="true"><path d="M21 12V7H5a2 2 0 0 1 0-4h14v4"/><path d="M3 5v14a2 2 0 0 0 2 2h16v-5"/><path d="M18 12a2 2 0 0 0 0 4h4v-4Z"/></svg><span class="t" style="left:578.8px;top:118.3px;font-size:25px;color:#111;letter-spacing:0.07px;-webkit-text-stroke:0.3px currentColor">3.62</span>
</div>
<button class="tok" type="button"><svg style="left:28.5px;top:18px" width="44" height="44" viewBox="1864 266 44 44" aria-hidden="true"><circle cx="1885.8" cy="287.6" r="21.7" fill="#7c3213"/>
<path d="M1877.00 276.28C1875.97 276.45 1874.67 276.99 1873.95 277.86C1873.23 278.74 1872.73 280.45 1872.67 281.52C1872.61 282.60 1873.30 283.56 1873.59 284.33C1873.87 285.10 1874.29 285.27 1874.38 286.16C1874.47 287.05 1874.04 288.45 1874.14 289.70C1874.23 290.95 1874.35 292.38 1874.93 293.66C1875.51 294.94 1876.52 296.33 1877.61 297.38C1878.70 298.44 1880.05 299.42 1881.46 300.01C1882.86 300.60 1884.51 300.92 1886.03 300.92C1887.56 300.92 1889.20 300.60 1890.61 300.01C1892.01 299.42 1893.36 298.44 1894.45 297.38C1895.54 296.33 1896.56 294.94 1897.13 293.66C1897.70 292.38 1897.78 290.95 1897.86 289.70C1897.95 288.45 1897.53 287.05 1897.62 286.16C1897.71 285.27 1898.13 285.10 1898.41 284.33C1898.70 283.56 1899.38 282.60 1899.33 281.52C1899.28 280.45 1898.82 278.74 1898.11 277.86C1897.40 276.99 1896.10 276.45 1895.06 276.28C1894.02 276.11 1892.83 276.58 1891.89 276.83C1890.94 277.07 1890.36 277.53 1889.39 277.74C1888.41 277.96 1887.15 278.11 1886.03 278.11C1884.91 278.11 1883.65 277.96 1882.68 277.74C1881.70 277.53 1881.12 277.07 1880.17 276.83C1879.23 276.58 1878.04 276.11 1877.00 276.28Z" fill="none" stroke="#fdeedc" stroke-width="2.3" stroke-linejoin="round"/>
<g fill="#fdeedc"><ellipse cx="1878" cy="282" rx="2.6" ry="1.9" transform="rotate(-30 1878 282)"/><ellipse cx="1894" cy="282" rx="2.6" ry="1.9" transform="rotate(30 1894 282)"/><ellipse cx="1881.6" cy="291.4" rx="2.3" ry="1.3"/><ellipse cx="1890.6" cy="291.4" rx="2.3" ry="1.3"/><ellipse cx="1886.1" cy="293.7" rx="1.6" ry="1.2"/></g></svg><span class="t" style="left:85.7px;top:27.2px;font-size:25.5px;color:#111;letter-spacing:-0.2px;transform:scaleX(0.9685);-webkit-text-stroke:0.2px currentColor">BERA</span><svg style="left:164.3px;top:33.2px" width="20.75" height="13.35" viewBox="1999.8 281.2 20.75 13.35" aria-hidden="true"><path d="M2002.8 284.2 L2010.1 291.55 L2017.55 284.2" fill="none" stroke="#000" stroke-width="2.7" stroke-linecap="round" stroke-linejoin="round"/></svg></button>
<div class="opt" id="opt-stake"><span class="t" style="left:22px;top:20.5px;font-size:24.8px;color:#15171c;letter-spacing:0.74px;transform:scaleX(1.0081);-webkit-text-stroke:0.45px currentColor">Stake</span><span class="t" style="left:22px;top:55.8px;font-size:25.6px;color:#262626;letter-spacing:-0.2px;transform:scaleX(0.9729);-webkit-text-stroke:0.2px currentColor">0 iBERA</span><span class="t" style="left:121.3px;top:58px;font-size:22.5px;color:#6b6b6b;letter-spacing:0.67px;transform:scaleX(1.0069)">($0)</span></div>
<div class="opt sel" id="opt-enso"><div class="glow"></div><span class="t" style="left:21.8px;top:20.5px;font-size:24.8px;color:#15171c;letter-spacing:0.19px;-webkit-text-stroke:0.45px currentColor">Swap via Enso</span><span class="t" style="left:21.8px;top:55.8px;font-size:25.6px;color:#262626;letter-spacing:-0.2px;transform:scaleX(0.9676);-webkit-text-stroke:0.2px currentColor">0 iBERA</span><span class="t" style="left:121.4px;top:58px;font-size:22.5px;color:#6b6b6b;letter-spacing:0.5px">($0)</span></div>
<div class="chk"><svg style="left:0px;top:0px" width="36" height="36" viewBox="0 0 24 24" fill="none" stroke="#0a0a0a" stroke-width="1.9" stroke-linecap="round" stroke-linejoin="round" aria-hidden="true"><path d="M21.801 10A10 10 0 1 1 17 3.335"/><path d="m9 11 3 3L22 4"/></svg></div>
<button class="swap" type="button"><span class="t" style="left:296.8px;top:27px;font-size:25.4px;color:#fff;letter-spacing:0.4px;-webkit-text-stroke:0.5px currentColor">Swap</span></button>
<div class="rate"><span class="t" style="left:1430.5px;top:650.7px;font-size:26px;color:#15171c;letter-spacing:-0.21px;transform:scaleX(0.9056)">1 BERA =</span><u class="t" style="left:1537px;top:650.7px;font-size:26px;color:#15171c;letter-spacing:-0.21px;transform:scaleX(0.957)">0.97875381</u><span class="t" style="left:1670.1px;top:650.7px;font-size:26px;color:#15171c;letter-spacing:-0.21px;transform:scaleX(0.9526)">iBERA</span><svg style="left:2037.8px;top:657.2px" width="20.5" height="13.1" viewBox="2037.8 657.2 20.5 13.1" aria-hidden="true"><path d="M2040.8 667.3 L2048 660.2 L2055.3 667.3" fill="none" stroke="#000" stroke-width="2.7" stroke-linecap="round" stroke-linejoin="round"/></svg></div>
<ul class="det">
<li><span class="t" style="left:1431.2px;top:711.2px;font-size:22.5px;color:#666;letter-spacing:0.15px;-webkit-text-stroke:0.2px currentColor">Price impact</span><span class="t" style="left:2031.4px;top:710.9px;font-size:22.5px;color:#666;letter-spacing:-0.18px;transform:scaleX(0.9539);-webkit-text-stroke:0.2px currentColor">0%</span></li>
<li><span class="t" style="left:1431.3px;top:754.1px;font-size:22.5px;color:#666;letter-spacing:-0.18px;transform:scaleX(0.9699);-webkit-text-stroke:0.2px currentColor">Fee (0%)</span><span class="t" style="left:1958.6px;top:753.9px;font-size:22.5px;color:#666;letter-spacing:-0.18px;transform:scaleX(0.9955);-webkit-text-stroke:0.2px currentColor">BERA ($0)</span></li>
<li><span class="t" style="left:1432.2px;top:797px;font-size:22.5px;color:#666;letter-spacing:0.15px;-webkit-text-stroke:0.2px currentColor">Order route</span><span class="t" style="left:2045px;top:797.4px;font-size:22.5px;color:#666;transform:scaleX(0.7043)">—</span></li>
</ul>
</aside>
</main>
</body>
</html>
